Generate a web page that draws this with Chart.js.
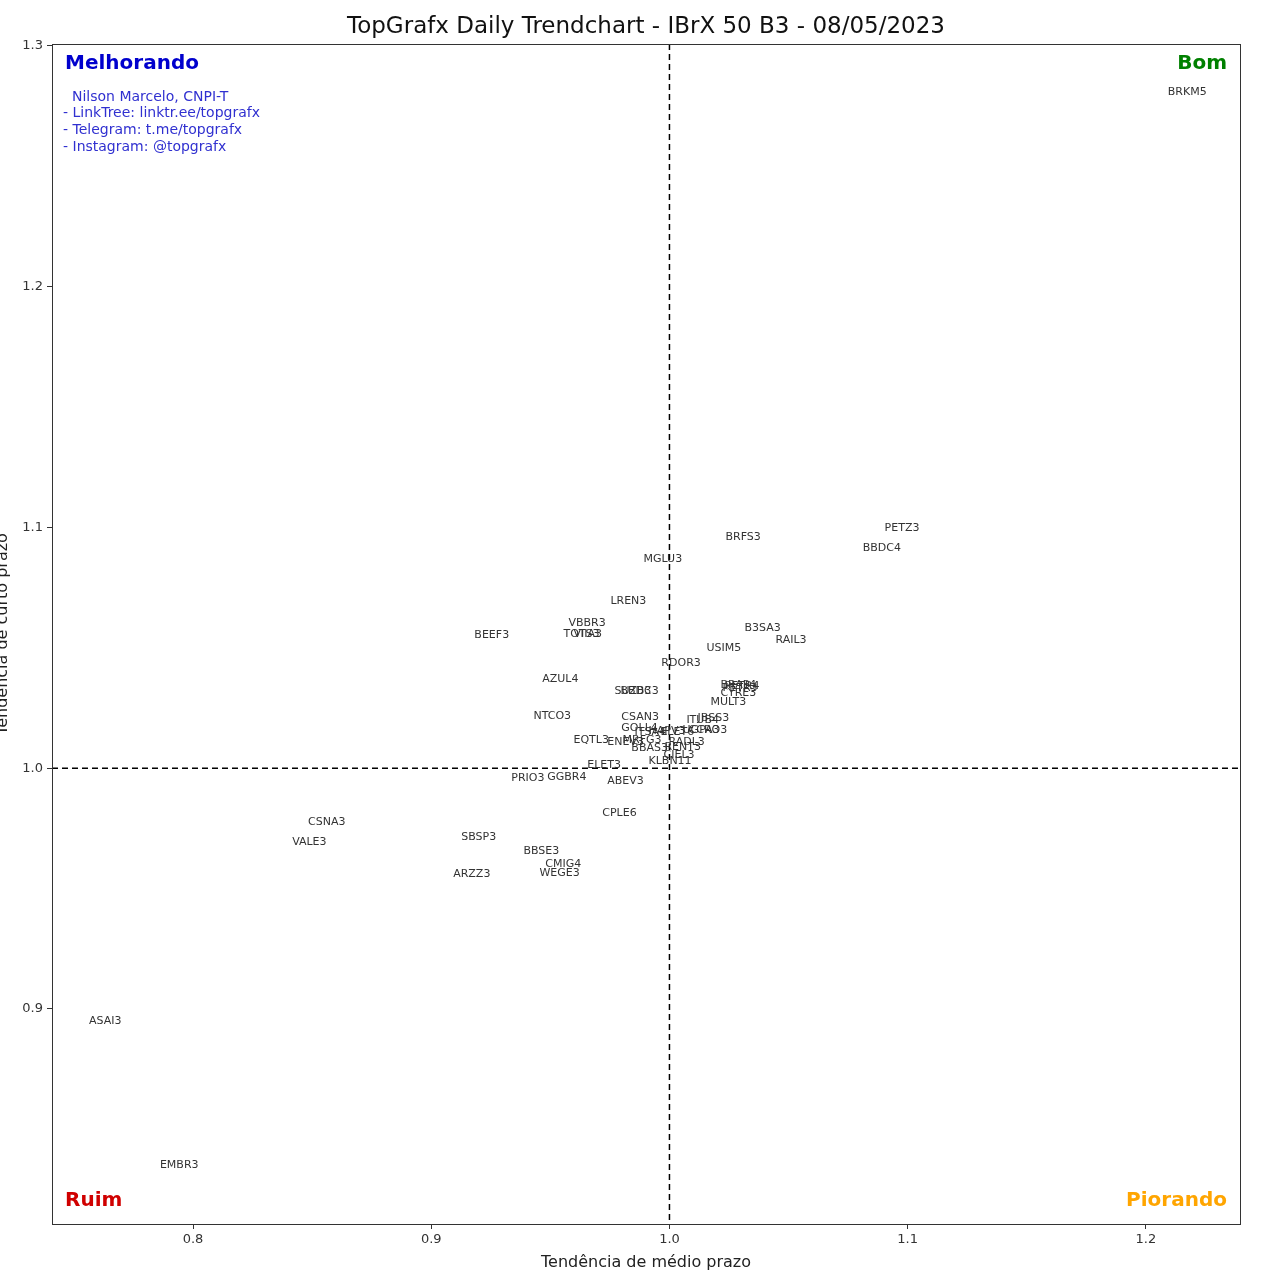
<!DOCTYPE html>
<html>
<head>
<meta charset="utf-8">
<script src="https://cdn.jsdelivr.net/npm/chart.js@4.4.0/dist/chart.umd.min.js"></script>
<style>
  html, body { margin: 0; padding: 0; background: #fff; }
  #wrap { width: 1280px; height: 1281px; }
</style>
</head>
<body>
<div id="wrap"><canvas id="chartContainer"></canvas></div>
<script>
// tickers and their (medio, curto) trend values
const tickers = ["BRKM5","PETZ3","BBDC4","BRFS3","MGLU3","LREN3","VBBR3","TOTS3","VIIA3","BEEF3",
  "B3SA3","RAIL3","USIM5","RDOR3","AZUL4","SUZB3","BBDC3","BRAP4","PETR4","PETR3",
  "CYRE3","MULT3","NTCO3","CSAN3","ITUB4","JBSS3","GOLL4","ITSA4","HAPV3","ELET6",
  "UGPA3","CCRO3","EQTL3","ENEV3","MRFG3","RADL3","BBAS3","RENT3","CIEL3","KLBN11",
  "ELET3","PRIO3","GGBR4","ABEV3","CPLE6","CSNA3","VALE3","SBSP3","BBSE3","CMIG4",
  "WEGE3","ARZZ3","ASAI3","EMBR3"];
const medio = [1.2092,1.0903,1.0811,1.0235,0.9891,0.9752,0.9576,0.9555,0.9597,0.9181,
  1.0315,1.0445,1.0155,0.9966,0.9466,0.9769,0.9794,1.0214,1.0231,1.0223,
  1.0214,1.0172,0.9429,0.9798,1.0071,1.0118,0.9798,0.9853,0.9912,0.9962,
  1.0055,1.0080,0.9597,0.9739,0.9803,0.9996,0.9840,0.9979,0.9975,0.9912,
  0.9655,0.9336,0.9487,0.9739,0.9718,0.8483,0.8416,0.9126,0.9387,0.9479,
  0.9454,0.9092,0.7563,0.7861];
const curto = [1.2808,1.0997,1.0914,1.0960,1.0868,1.0694,1.0602,1.0557,1.0557,1.0553,
  1.0582,1.0532,1.0499,1.0436,1.0370,1.0320,1.0320,1.0345,1.0341,1.0332,
  1.0312,1.0274,1.0216,1.0212,1.0199,1.0208,1.0166,1.0150,1.0154,1.0150,
  1.0158,1.0158,1.0116,1.0108,1.0116,1.0108,1.0083,1.0087,1.0054,1.0029,
  1.0012,0.9958,0.9963,0.9946,0.9813,0.9776,0.9693,0.9713,0.9655,0.9601,
  0.9564,0.9560,0.8949,0.8351];

const xTicks = [0.8, 0.9, 1.0, 1.1, 1.2];
const yTicks = [0.9, 1.0, 1.1, 1.2, 1.3];

let points = [];
for (let i = 0; i < tickers.length; i++) {
  points.push({ x: medio[i], y: curto[i] });
}

const FONT = "'DejaVu Sans', sans-serif";

const decor = {
  id: 'decor',
  beforeDatasetsDraw(chart) {
    const c = chart.ctx, a = chart.chartArea;
    const px = chart.scales.x.getPixelForValue(1.0);
    const py = chart.scales.y.getPixelForValue(1.0);
    c.save();
    c.strokeStyle = '#000';
    c.lineWidth = 1.5;
    c.setLineDash([6, 4]);
    c.beginPath();
    c.moveTo(px, a.top); c.lineTo(px, a.bottom);
    c.moveTo(a.left, py); c.lineTo(a.right, py);
    c.stroke();
    c.restore();
  },
  afterDatasetsDraw(chart) {
    const c = chart.ctx, a = chart.chartArea;
    const meta = chart.getDatasetMeta(0);
    c.save();
    // title, centred over the plot box
    c.font = '23px ' + FONT;
    c.fillStyle = '#111';
    c.textAlign = 'center';
    c.textBaseline = 'middle';
    c.fillText('TopGrafx Daily Trendchart - IBrX 50 B3 - 08/05/2023', (a.left + a.right) / 2, 27);
    // ticker labels
    c.font = '11px ' + FONT;
    c.fillStyle = '#333';
    c.textAlign = 'left';
    meta.data.forEach(function (pt, i) {
      c.fillText(tickers[i], pt.x, pt.y);
    });
    // quadrant names
    c.font = 'bold 20px ' + FONT;
    c.fillStyle = '#0000cd';
    c.fillText('Melhorando', a.left + 13, a.top + 20);
    c.fillStyle = '#d00000';
    c.fillText('Ruim', a.left + 13, a.bottom - 23);
    c.textAlign = 'right';
    c.fillStyle = '#008000';
    c.fillText('Bom', a.right - 13, a.top + 20);
    c.fillStyle = '#ffa500';
    c.fillText('Piorando', a.right - 13, a.bottom - 23);
    // credits
    c.textAlign = 'left';
    c.font = '14px ' + FONT;
    c.fillStyle = '#3030d0';
    c.fillText('Nilson Marcelo, CNPI-T', a.left + 20, a.top + 53);
    c.fillText('- LinkTree: linktr.ee/topgrafx', a.left + 11, a.top + 69);
    c.fillText('- Telegram: t.me/topgrafx', a.left + 11, a.top + 86);
    c.fillText('- Instagram: @topgrafx', a.left + 11, a.top + 103);
    // frame
    c.strokeStyle = '#333';
    c.lineWidth = 1;
    c.setLineDash([]);
    c.strokeRect(a.left + 0.5, a.top + 0.5, a.right - a.left, a.bottom - a.top);
    // y title
    c.translate(3, (a.top + a.bottom) / 2);
    c.rotate(-Math.PI / 2);
    c.textAlign = 'center';
    c.font = '16px ' + FONT;
    c.fillStyle = '#222';
    c.fillText('Tendência de curto prazo', 0, 0);
    c.restore();
  }
};

new Chart(document.getElementById('chartContainer'), {
  type: 'scatter',
  data: {
    datasets: [{ data: points, pointRadius: 0, pointHoverRadius: 0 }]
  },
  options: {
    responsive: true,
    maintainAspectRatio: false,
    animation: false,
    events: [],
    layout: { padding: { left: 0, right: 40, top: 44, bottom: 0 } },
    plugins: {
      legend: { display: false },
      tooltip: { enabled: false },
      title: { display: false }
    },
    scales: {
      x: {
        type: 'linear',
        min: 0.7408,
        max: 1.2395,
        afterBuildTicks: function (s) { s.ticks = xTicks.map(v => ({ value: v })); },
        afterFit: function (s) { s.height = 57; },
        grid: { drawOnChartArea: false, tickLength: 5, color: '#333' },
        border: { display: false },
        ticks: { color: '#333', font: { family: FONT, size: 13 }, padding: 3,
                 callback: v => v.toFixed(1) },
        title: { display: true, text: 'Tendência de médio prazo', color: '#222',
                 font: { family: FONT, size: 16 }, padding: { top: 0, bottom: 9 } }
      },
      y: {
        type: 'linear',
        min: 0.8107,
        max: 1.3008,
        afterBuildTicks: function (s) { s.ticks = yTicks.map(v => ({ value: v })); },
        afterFit: function (s) { s.width = 52; },
        grid: { drawOnChartArea: false, tickLength: 5, color: '#333' },
        border: { display: false },
        ticks: { color: '#333', font: { family: FONT, size: 13 }, padding: 4,
                 callback: v => v.toFixed(1) }
      }
    }
  },
  plugins: [decor]
});
</script>
</body>
</html>
